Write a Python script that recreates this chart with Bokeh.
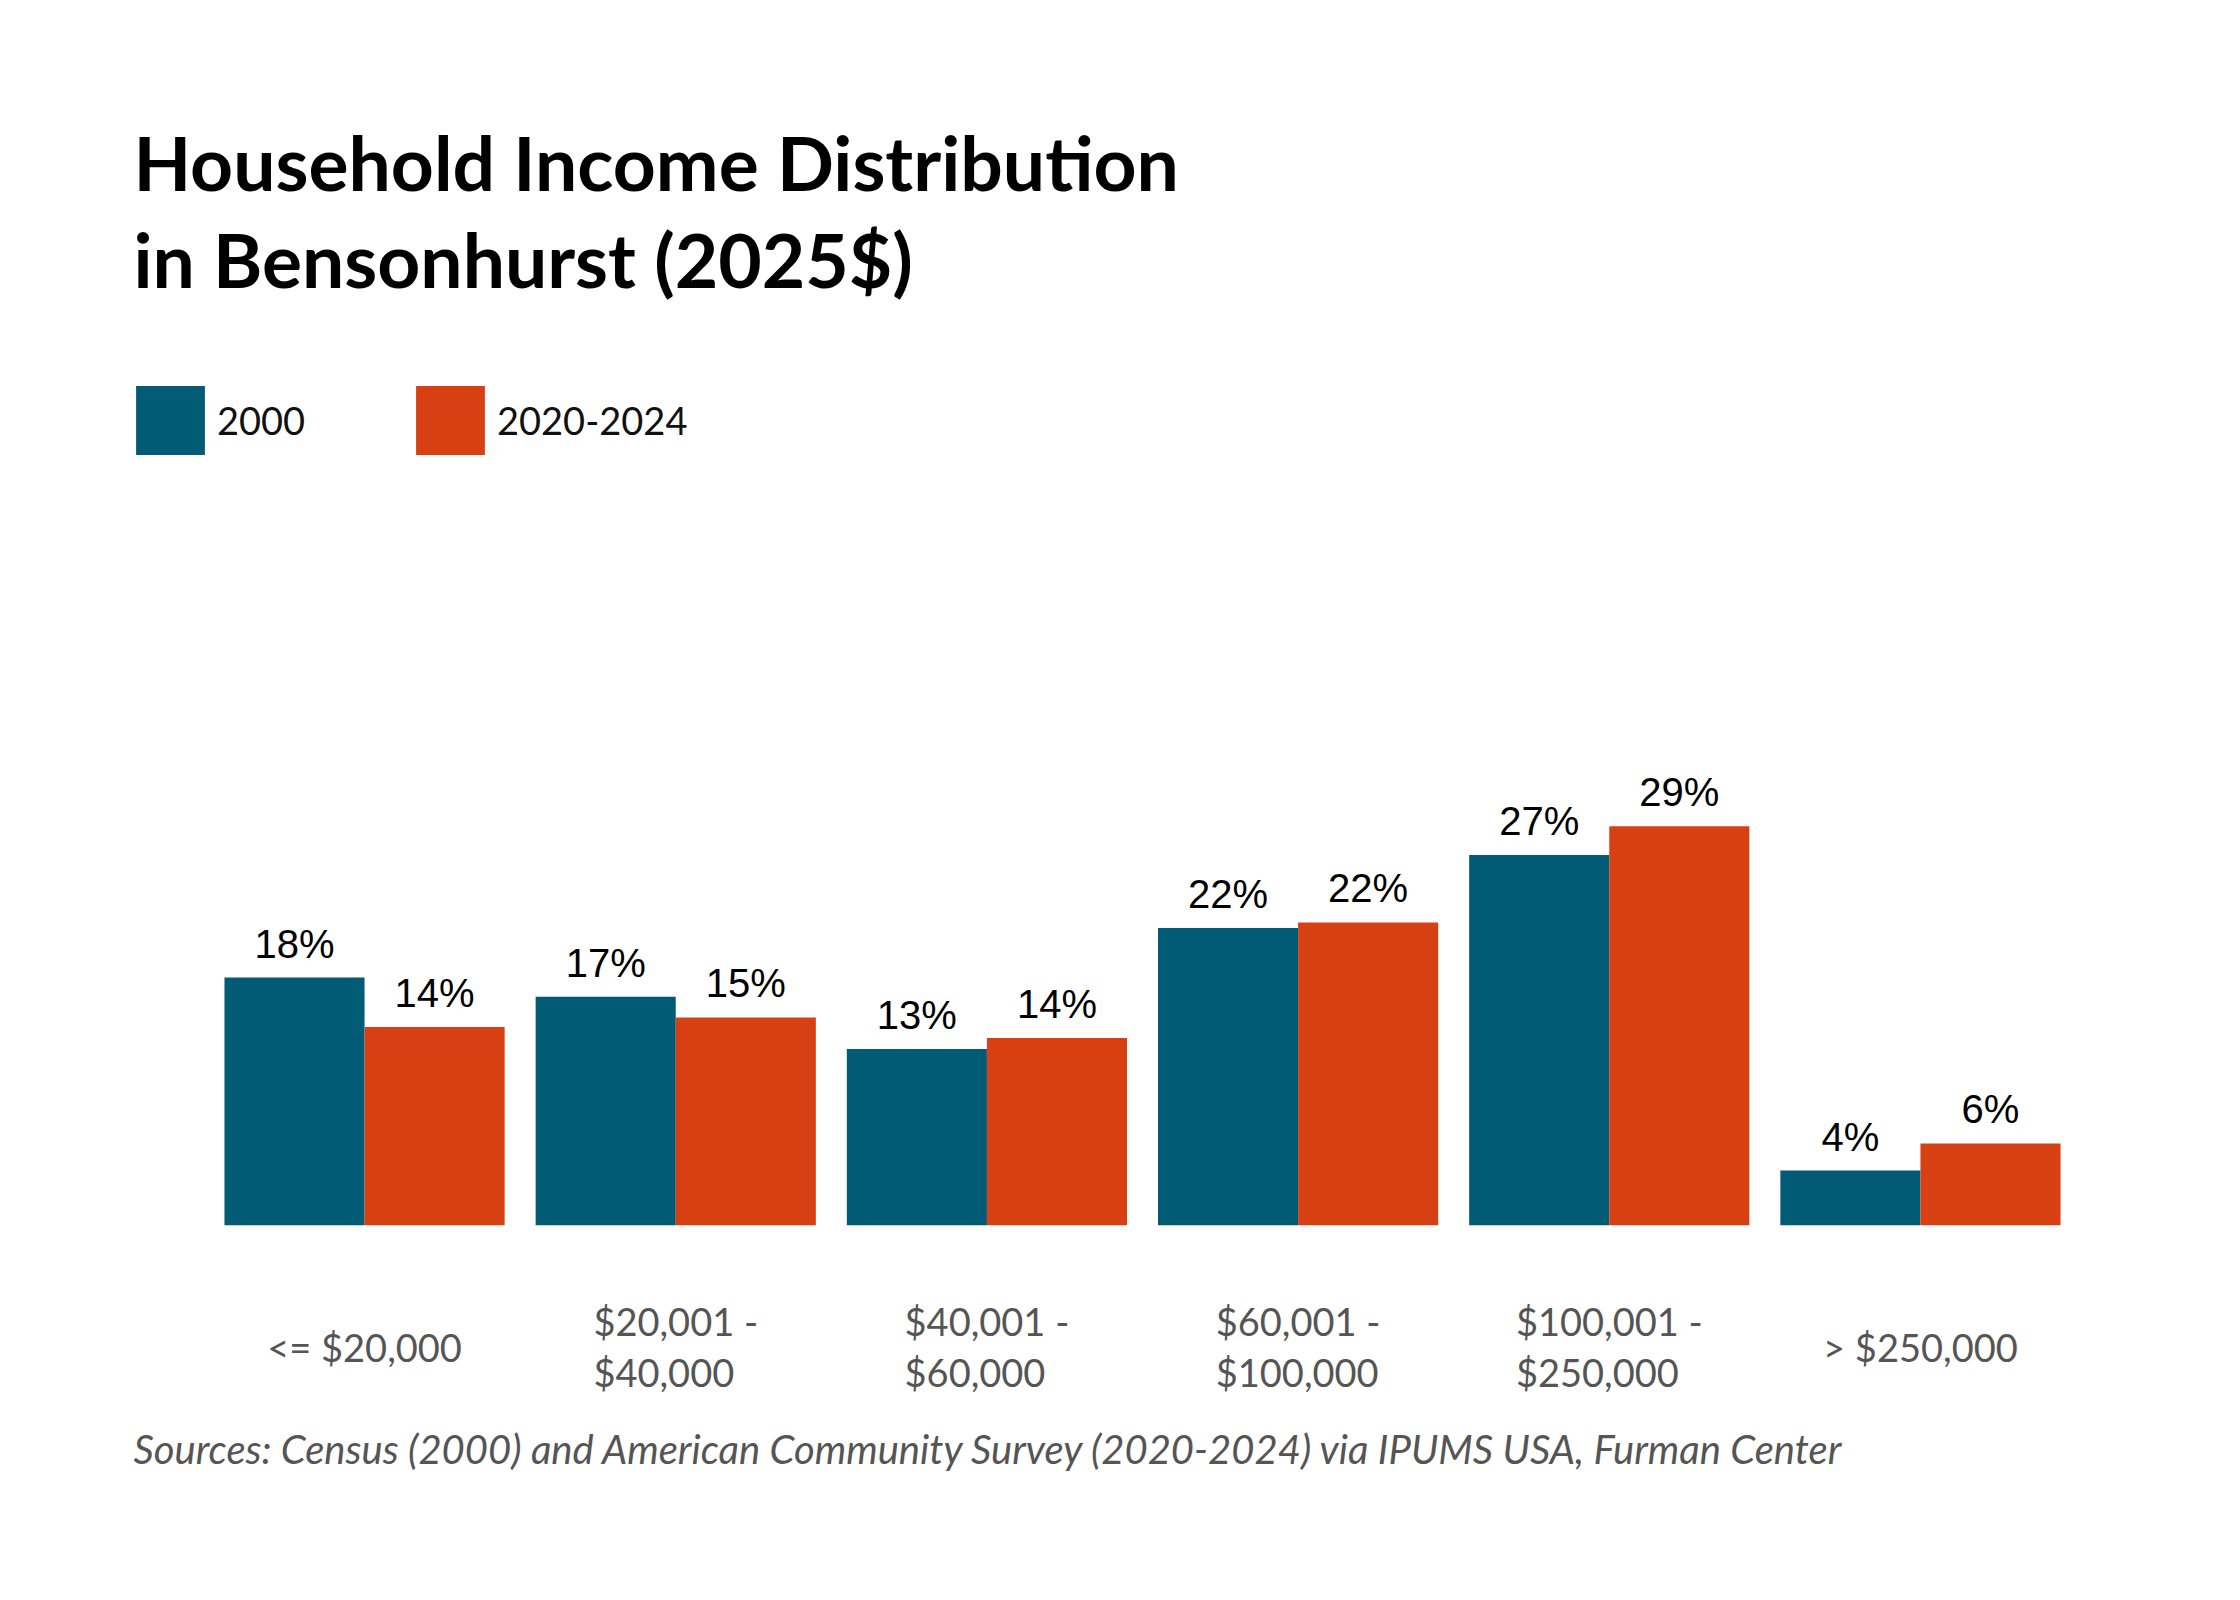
from bokeh.plotting import figure
from bokeh.models import ColumnDataSource, FactorRange, Range1d, LabelSet, Label, Legend, LegendItem
from bokeh.transform import dodge
from bokeh.embed import file_html
from bokeh.resources import INLINE
from bokeh.core.properties import value

# ---- data ----
categories = ["<= $20,000", "$20,001 - $40,000", "$40,001 - $60,000",
              "$60,001 - $100,000", "$100,001 - $250,000", "> $250,000"]
tick_labels = ["<= $20,000", "$20,001 -\n$40,000", "$40,001 -\n$60,000",
               "$60,001 -\n$100,000", "$100,001 -\n$250,000", "> $250,000"]
series_names = ["2000", "2020-2024"]
share_2000 = [18.0, 16.6, 12.8, 21.6, 26.9, 3.97]
share_2020_2024 = [14.4, 15.1, 13.6, 22.0, 29.0, 5.94]
colors = ["#015B75", "#D64013"]

title_lines = ["Household Income Distribution", "in Bensonhurst (2025$)"]
source_text = "Sources: Census (2000) and American Community Survey (2020-2024) via IPUMS USA, Furman Center"

# ---- layout constants ----
W, H = 2224, 1584
BAR_W = 0.4502
HALF = BAR_W / 2

src = ColumnDataSource(dict(
    cat=categories,
    tick=tick_labels,
    v2000=share_2000,
    v2020=share_2020_2024,
    l2000=[f"{round(v)}%" for v in share_2000],
    l2020=[f"{round(v)}%" for v in share_2020_2024],
))

p = figure(
    x_range=FactorRange(factors=categories, range_padding=0.09477,
                        range_padding_units="percent"),
    y_range=Range1d(-26.11, 89.0),
    width=W, height=H,
    output_backend="svg", toolbar_location=None, title=None,
    x_axis_location=None, y_axis_location=None,
    min_border_left=120, min_border_right=60,
    min_border_top=0, min_border_bottom=0,
)
p.xgrid.visible = False
p.ygrid.visible = False
p.outline_line_color = None
p.background_fill_color = "white"
p.border_fill_color = "white"

r1 = p.vbar(x=dodge("cat", -HALF, range=p.x_range), top="v2000", width=BAR_W,
            source=src, fill_color=colors[0], line_color=None)
r2 = p.vbar(x=dodge("cat", HALF, range=p.x_range), top="v2020", width=BAR_W,
            source=src, fill_color=colors[1], line_color=None)

common = dict(source=src, text_align="center", text_baseline="alphabetic",
              y_offset=20, text_font=value("Liberation Sans"),
              text_font_size=value("40px"), text_color="black")
p.add_layout(LabelSet(x=dodge("cat", -HALF, range=p.x_range), y="v2000", text="l2000", **common))
p.add_layout(LabelSet(x=dodge("cat", HALF, range=p.x_range), y="v2020", text="l2020", **common))

# category labels below the bars
p.add_layout(LabelSet(x="cat", y=238, y_units="screen", text="tick", source=src,
                      text_align="center", text_baseline="middle",
                      text_font=value("Lato"), text_font_size=value("38px"),
                      text_color="#555555", text_line_height=1.12))

# title
for i, t in enumerate(title_lines):
    p.add_layout(Label(x=13, y=1423 - 97 * i, x_units="screen", y_units="screen",
                       text=t, text_font="Lato", text_font_style="bold",
                       text_font_size="75px", text_color="black",
                       text_baseline="alphabetic"))

# legend
legend = Legend(
    items=[LegendItem(label=series_names[0], renderers=[r1]),
           LegendItem(label=series_names[1], renderers=[r2])],
    location=(7, 1121), orientation="horizontal",
    glyph_width=86, glyph_height=86, label_standoff=4, label_width=190,
    spacing=0, padding=0, margin=0, border_line_color=None,
    background_fill_alpha=0, label_text_font="Lato",
    label_text_font_size="38px", label_text_color="#111111",
)
p.add_layout(legend, "center")

# source note
p.add_layout(Label(x=13, y=136, x_units="screen", y_units="screen",
                   text=source_text, text_font="Lato", text_font_style="italic",
                   text_font_size="40px", text_color="#555555",
                   text_baseline="alphabetic"))

open("out.html", "w").write(file_html(p, INLINE))
